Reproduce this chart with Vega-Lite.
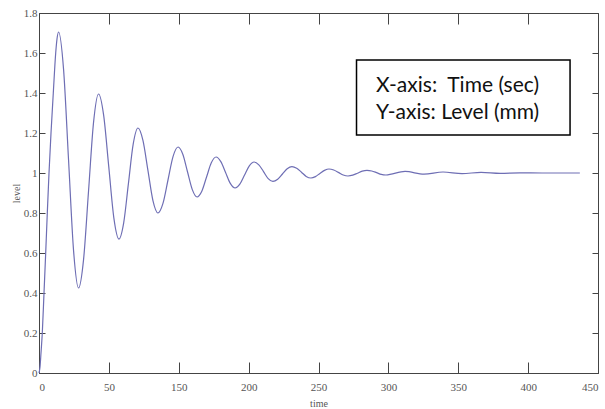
{
  "$schema": "https://vega.github.io/schema/vega-lite/v6.json",
  "width": 559,
  "height": 360,
  "autosize": {"type": "none"},
  "padding": {"left": 39, "top": 13, "right": 7, "bottom": 36},
  "background": "white",
  "config": {
    "view": {"stroke": "#444", "strokeWidth": 1},
    "axis": {
      "domainColor": "#444",
      "tickColor": "#444",
      "grid": false,
      "labelFont": "Liberation Sans Narrow",
      "labelFontSize": 11,
      "labelColor": "#555",
      "titleFont": "Liberation Sans Narrow",
      "titleFontSize": 10,
      "titleFontWeight": "normal",
      "titleColor": "#555"
    }
  },
  "layer": [
    {
      "data": {"values": [
        {"t": 0, "level": 0},
        {"t": 0.72, "level": 0.03},
        {"t": 1.43, "level": 0.1},
        {"t": 2.36, "level": 0.2},
        {"t": 3.58, "level": 0.4},
        {"t": 4.79, "level": 0.6},
        {"t": 5.94, "level": 0.8},
        {"t": 7.16, "level": 1.0},
        {"t": 8.59, "level": 1.2},
        {"t": 10.23, "level": 1.4},
        {"t": 11.95, "level": 1.6},
        {"t": 12.88, "level": 1.67},
        {"t": 14.0, "level": 1.705},
        {"t": 17.58, "level": 1.518},
        {"t": 21.15, "level": 1.065},
        {"t": 24.73, "level": 0.612},
        {"t": 28.3, "level": 0.425},
        {"t": 31.88, "level": 0.567},
        {"t": 35.45, "level": 0.91},
        {"t": 39.03, "level": 1.253},
        {"t": 42.6, "level": 1.395},
        {"t": 46.25, "level": 1.289},
        {"t": 49.9, "level": 1.033},
        {"t": 53.55, "level": 0.776},
        {"t": 57.2, "level": 0.67},
        {"t": 60.6, "level": 0.751},
        {"t": 64.0, "level": 0.948},
        {"t": 67.4, "level": 1.144},
        {"t": 70.8, "level": 1.225},
        {"t": 74.38, "level": 1.163},
        {"t": 77.95, "level": 1.013},
        {"t": 81.53, "level": 0.862},
        {"t": 85.1, "level": 0.8},
        {"t": 88.7, "level": 0.848},
        {"t": 92.3, "level": 0.965},
        {"t": 95.9, "level": 1.082},
        {"t": 99.5, "level": 1.13},
        {"t": 102.9, "level": 1.094},
        {"t": 106.3, "level": 1.005},
        {"t": 109.7, "level": 0.917},
        {"t": 113.1, "level": 0.88},
        {"t": 116.5, "level": 0.909},
        {"t": 119.9, "level": 0.98},
        {"t": 123.3, "level": 1.051},
        {"t": 126.7, "level": 1.08},
        {"t": 130.1, "level": 1.057},
        {"t": 133.5, "level": 1.003},
        {"t": 136.9, "level": 0.948},
        {"t": 140.3, "level": 0.925},
        {"t": 143.7, "level": 0.944},
        {"t": 147.1, "level": 0.99},
        {"t": 150.5, "level": 1.036},
        {"t": 153.9, "level": 1.055},
        {"t": 157.3, "level": 1.041},
        {"t": 160.65, "level": 1.007},
        {"t": 164.0, "level": 0.972},
        {"t": 167.4, "level": 0.958},
        {"t": 170.8, "level": 0.969},
        {"t": 174.2, "level": 0.995},
        {"t": 177.6, "level": 1.021},
        {"t": 181.0, "level": 1.032},
        {"t": 184.4, "level": 1.024},
        {"t": 187.8, "level": 1.004},
        {"t": 191.2, "level": 0.983},
        {"t": 194.6, "level": 0.975},
        {"t": 197.8, "level": 0.982},
        {"t": 201.05, "level": 0.998},
        {"t": 204.3, "level": 1.013},
        {"t": 207.5, "level": 1.02},
        {"t": 210.9, "level": 1.015},
        {"t": 214.3, "level": 1.003},
        {"t": 217.7, "level": 0.99},
        {"t": 221.1, "level": 0.985},
        {"t": 224.5, "level": 0.989},
        {"t": 227.9, "level": 0.999},
        {"t": 231.3, "level": 1.009},
        {"t": 234.7, "level": 1.013},
        {"t": 238.1, "level": 1.01},
        {"t": 241.5, "level": 1.002},
        {"t": 244.9, "level": 0.993},
        {"t": 248.3, "level": 0.99},
        {"t": 261.9, "level": 1.008},
        {"t": 275.5, "level": 0.994},
        {"t": 289.1, "level": 1.005},
        {"t": 302.7, "level": 0.997},
        {"t": 316.3, "level": 1.003},
        {"t": 330.0, "level": 0.998},
        {"t": 344.0, "level": 1.001},
        {"t": 360.0, "level": 1.0},
        {"t": 387.0, "level": 1.0}
      ]},
      "mark": {"type": "line", "interpolate": "monotone", "color": "#6e6eb4", "strokeWidth": 1.2},
      "encoding": {
        "x": {
          "field": "t", "type": "quantitative",
          "scale": {"domain": [0, 400], "nice": false},
          "axis": {
            "orient": "bottom", "title": "time", "values": [0, 50, 100, 150, 200, 250, 300, 350, 400],
            "labelExpr": "datum.value <= 50 ? datum.label : format(datum.value + 50, 'd')",
            "tickSize": -11, "labelPadding": 19, "titlePadding": 6
          }
        },
        "y": {
          "field": "level", "type": "quantitative",
          "scale": {"domain": [0, 1.8], "nice": false},
          "axis": {
            "orient": "left", "title": "level", "values": [0, 0.2, 0.4, 0.6, 0.8, 1, 1.2, 1.4, 1.6, 1.8],
            "format": "~g", "tickSize": -6, "labelPadding": 8, "titlePadding": 2
          }
        }
      }
    },
    {
      "data": {"values": [{"x0": 227.2, "x1": 380.0, "y0": 1.19, "y1": 1.565}]},
      "mark": {"type": "rect", "fill": "white", "stroke": "black", "strokeWidth": 1.5},
      "encoding": {
        "x": {"field": "x0", "type": "quantitative", "axis": {"orient": "top", "title": null, "labels": false, "values": [0, 50, 100, 150, 200, 250, 300, 350, 400], "tickSize": -11, "domain": false}},
        "x2": {"field": "x1"},
        "y": {"field": "y0", "type": "quantitative", "axis": {"orient": "right", "title": null, "labels": false, "values": [0, 0.2, 0.4, 0.6, 0.8, 1, 1.2, 1.4, 1.6, 1.8], "tickSize": -6, "domain": false}},
        "y2": {"field": "y1"}
      }
    },
    {
      "data": {"values": [
        {"tx": 241.1, "ty": 1.4075, "label": "X-axis:\u00a0 Time (sec)"},
        {"tx": 241.1, "ty": 1.27, "label": "Y-axis: Level (mm)"}
      ]},
      "mark": {"type": "text", "align": "left", "baseline": "alphabetic", "font": "Lato", "fontSize": 21, "color": "#111"},
      "encoding": {
        "x": {"field": "tx", "type": "quantitative", "axis": null},
        "y": {"field": "ty", "type": "quantitative", "axis": null},
        "text": {"field": "label"}
      }
    }
  ],
  "resolve": {"axis": {"x": "independent", "y": "independent"}}
}
